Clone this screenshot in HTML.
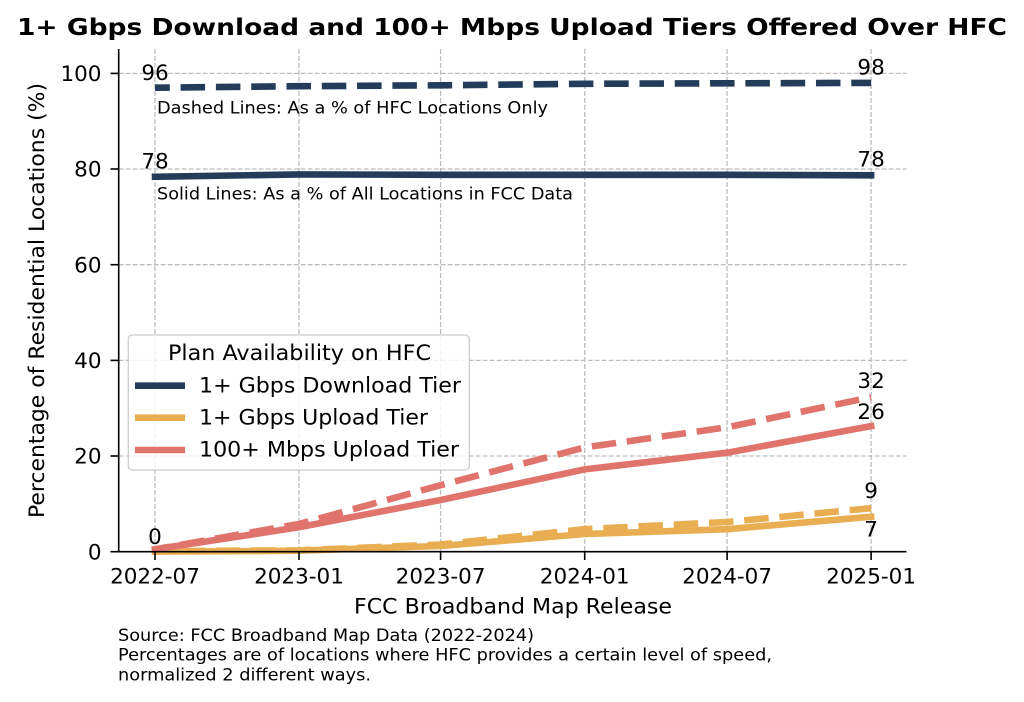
<!DOCTYPE html>
<html><head><meta charset="utf-8"><style>
html,body{margin:0;padding:0;background:#fff;}
svg{display:block;}
text{font-family:"DejaVu Sans","Liberation Sans",sans-serif;fill:#000;}
</style></head><body>
<svg width="1024" height="702" viewBox="0 0 1024 702" xmlns="http://www.w3.org/2000/svg">
<rect width="1024" height="702" fill="#fff"/>
<!-- title -->
<text x="17" y="35" font-size="23.5" font-weight="bold" textLength="990" lengthAdjust="spacingAndGlyphs">1+ Gbps Download and 100+ Mbps Upload Tiers Offered Over HFC</text>
<!-- grid -->
<g stroke="#bdbdbd" stroke-width="1.3" stroke-dasharray="4.9 2.1" fill="none">
<line x1="155" y1="49" x2="155" y2="551.7"/>
<line x1="299" y1="49" x2="299" y2="551.7"/>
<line x1="440.6" y1="49" x2="440.6" y2="551.7"/>
<line x1="584.7" y1="49" x2="584.7" y2="551.7"/>
<line x1="727.1" y1="49" x2="727.1" y2="551.7"/>
<line x1="871.1" y1="49" x2="871.1" y2="551.7"/>
<line x1="118.7" y1="73.4" x2="906.5" y2="73.4"/>
<line x1="118.7" y1="169.0" x2="906.5" y2="169.0"/>
<line x1="118.7" y1="264.7" x2="906.5" y2="264.7"/>
<line x1="118.7" y1="360.4" x2="906.5" y2="360.4"/>
<line x1="118.7" y1="456.0" x2="906.5" y2="456.0"/>
</g>
<!-- series -->
<g fill="none" stroke-width="6.6" stroke-linejoin="round">
<polyline stroke="#223c5a" stroke-linecap="square" points="155,176.8 299,174.4 440.6,174.8 584.7,174.8 727.1,174.8 871.1,175.3"/>
<polyline stroke="#223c5a" stroke-linecap="butt" stroke-dasharray="24.5 10.8" stroke-dashoffset="9.7" points="155,87.7 299,86.2 440.6,85.3 584.7,83.8 727.1,83.3 871.1,82.9"/>
<polyline stroke="#e9ad52" stroke-linecap="square" points="155,551.7 299,550.7 440.6,546.0 584.7,534.0 727.1,529.2 871.1,516.7"/>
<polyline stroke="#e9ad52" stroke-linecap="butt" stroke-dasharray="24.5 10.8" stroke-dashoffset="9.7" points="155,551.2 299,550.3 440.6,544.5 584.7,529.2 727.1,522.0 871.1,508.2"/>
<polyline stroke="#e0746c" stroke-linecap="square" points="155,549.3 299,527.3 440.6,500.0 584.7,469.4 727.1,452.7 871.1,426.1"/>
<polyline stroke="#e0746c" stroke-linecap="butt" stroke-dasharray="24.5 10.8" stroke-dashoffset="9.7" points="155,549.3 299,524.0 440.6,485.2 584.7,447.4 727.1,427.3 871.1,397.2"/>
</g>
<!-- spines & ticks -->
<g stroke="#000" stroke-width="1.6" fill="none">
<line x1="118.7" y1="49" x2="118.7" y2="552.5"/>
<line x1="117.9" y1="551.7" x2="906.5" y2="551.7"/>
<line x1="110.5" y1="73.4" x2="118.7" y2="73.4"/>
<line x1="110.5" y1="169.0" x2="118.7" y2="169.0"/>
<line x1="110.5" y1="264.7" x2="118.7" y2="264.7"/>
<line x1="110.5" y1="360.4" x2="118.7" y2="360.4"/>
<line x1="110.5" y1="456.0" x2="118.7" y2="456.0"/>
<line x1="110.5" y1="551.7" x2="118.7" y2="551.7"/>
<line x1="155" y1="551.7" x2="155" y2="560"/>
<line x1="299" y1="551.7" x2="299" y2="560"/>
<line x1="440.6" y1="551.7" x2="440.6" y2="560"/>
<line x1="584.7" y1="551.7" x2="584.7" y2="560"/>
<line x1="727.1" y1="551.7" x2="727.1" y2="560"/>
<line x1="871.1" y1="551.7" x2="871.1" y2="560"/>
</g>
<!-- y tick labels -->
<g font-size="21.5" text-anchor="end">
<text x="101.5" y="81">100</text>
<text x="101.5" y="176.6">80</text>
<text x="101.5" y="272.3">60</text>
<text x="101.5" y="368">40</text>
<text x="101.5" y="463.6">20</text>
<text x="101.5" y="559.3">0</text>
</g>
<!-- x tick labels -->
<g font-size="21.5" text-anchor="middle">
<text x="155" y="583.5">2022-07</text>
<text x="299" y="583.5">2023-01</text>
<text x="440.6" y="583.5">2023-07</text>
<text x="584.7" y="583.5">2024-01</text>
<text x="727.1" y="583.5">2024-07</text>
<text x="871.1" y="583.5">2025-01</text>
</g>
<!-- axis labels -->
<text x="354" y="613.5" font-size="21.5" textLength="318" lengthAdjust="spacingAndGlyphs">FCC Broadband Map Release</text>
<text transform="translate(44,300.5) rotate(-90)" x="0" y="0" font-size="21.5" text-anchor="middle" textLength="435" lengthAdjust="spacingAndGlyphs">Percentage of Residential Locations (%)</text>
<!-- notes -->
<text x="157" y="113.3" font-size="16.5" textLength="391" lengthAdjust="spacingAndGlyphs">Dashed Lines: As a % of HFC Locations Only</text>
<text x="157" y="199.3" font-size="16.5" textLength="416" lengthAdjust="spacingAndGlyphs">Solid Lines: As a % of All Locations in FCC Data</text>
<!-- annotations -->
<g font-size="21.5" text-anchor="middle">
<text x="155" y="80">96</text>
<text x="155" y="168.3">78</text>
<text x="155" y="544">0</text>
<text x="871.1" y="74.3">98</text>
<text x="871.1" y="166.7">78</text>
<text x="871.1" y="388">32</text>
<text x="871.1" y="419">26</text>
<text x="871.1" y="498">9</text>
<text x="871.1" y="536.7">7</text>
</g>
<!-- legend -->
<rect x="128.3" y="335" width="341" height="135" rx="4" ry="4" fill="#fff" fill-opacity="0.8" stroke="#cccccc" stroke-width="1.3"/>
<text x="168" y="360" font-size="21" textLength="263" lengthAdjust="spacingAndGlyphs">Plan Availability on HFC</text>
<g stroke-width="6.6" stroke-linecap="butt">
<line x1="135" y1="385.7" x2="185" y2="385.7" stroke="#223c5a"/>
<line x1="135" y1="417.7" x2="185" y2="417.7" stroke="#e9ad52"/>
<line x1="135" y1="450" x2="185" y2="450" stroke="#e0746c"/>
</g>
<g font-size="21">
<text x="199" y="392.7" textLength="262" lengthAdjust="spacingAndGlyphs">1+ Gbps Download Tier</text>
<text x="199" y="424.5" textLength="229" lengthAdjust="spacingAndGlyphs">1+ Gbps Upload Tier</text>
<text x="199" y="456.7" textLength="260" lengthAdjust="spacingAndGlyphs">100+ Mbps Upload Tier</text>
</g>
<!-- source -->
<g font-size="16.5">
<text x="118" y="641" textLength="416" lengthAdjust="spacingAndGlyphs">Source: FCC Broadband Map Data (2022-2024)</text>
<text x="118" y="660.7" textLength="654" lengthAdjust="spacingAndGlyphs">Percentages are of locations where HFC provides a certain level of speed,</text>
<text x="118" y="680.5" textLength="253" lengthAdjust="spacingAndGlyphs">normalized 2 different ways.</text>
</g>
</svg>
</body></html>
